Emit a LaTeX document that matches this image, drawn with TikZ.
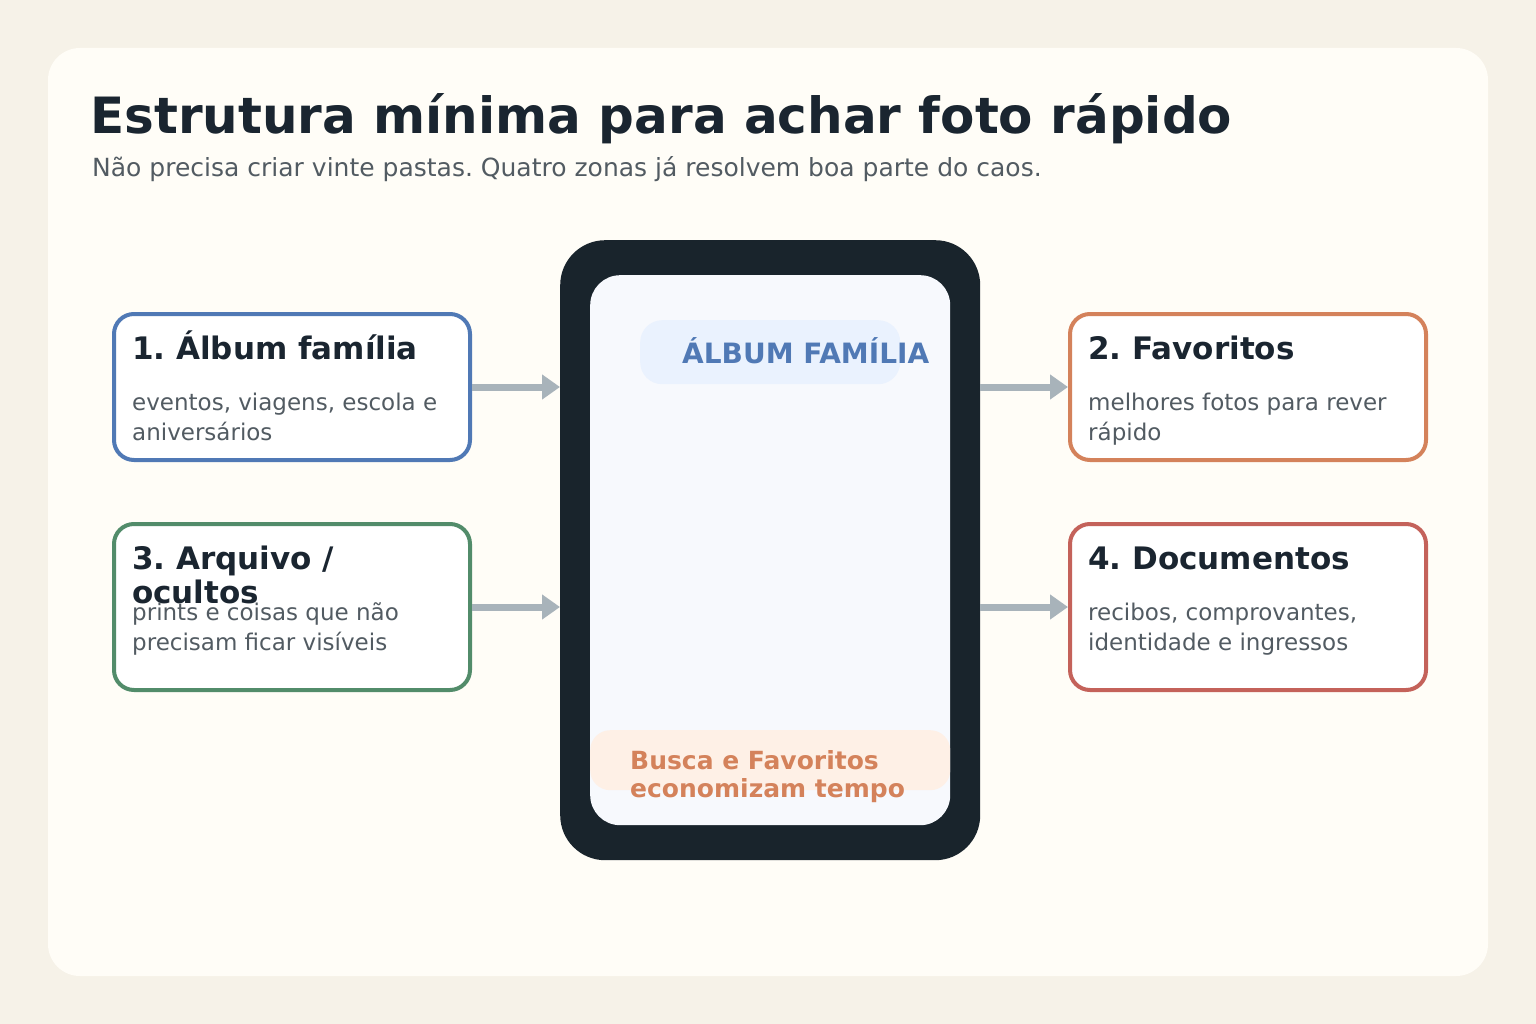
\documentclass[tikz,border=0pt]{standalone}
\usepackage{fontspec}
\setmainfont{DejaVu Sans}
\usetikzlibrary{positioning,arrows.meta}
\frenchspacing

\definecolor{pagebg}{HTML}{F6F2E8}
\definecolor{cardbg}{HTML}{FFFDF7}
\definecolor{ink}{HTML}{1A2530}
\definecolor{muted}{HTML}{525B62}
\definecolor{phoneframe}{HTML}{19242C}
\definecolor{screenbg}{HTML}{F7F9FD}
\definecolor{arrowgray}{HTML}{A8B3BA}
\definecolor{zblue}{HTML}{5079B5}
\definecolor{zorange}{HTML}{D4825B}
\definecolor{zgreen}{HTML}{528C6A}
\definecolor{zred}{HTML}{C4625A}
\definecolor{pillblue}{HTML}{EAF2FE}
\definecolor{pillorange}{HTML}{FEF0E6}

\tikzset{
  zonebox/.style={draw=#1, line width=4pt, rounded corners=20pt, fill=white,
    minimum width=356pt, anchor=north west, inner sep=0pt},
  zonetitle/.style={anchor=base west, inner sep=0pt,
    font=\fontsize{31}{36}\selectfont\bfseries, text=ink},
  zonetext/.style={anchor=base west, inner sep=0pt,
    font=\fontsize{23}{30}\selectfont, text=muted},
  link/.style={line width=7pt, draw=arrowgray,
    -{Triangle[length=18pt,width=24pt,fill=arrowgray]}},
  pill/.style={fill=#1, draw=none, rounded corners=22pt, anchor=north west, inner sep=0pt}
}

\begin{document}
\begin{tikzpicture}[x=1pt,y=-1pt]

	% page and card
	\fill[pagebg] (0,0) rectangle (1536,1024);
	\useasboundingbox (0,0) rectangle (1536,1024);
	\fill[cardbg, rounded corners=32pt] (48,48) rectangle (1488,976);

	\node[anchor=base west, inner sep=0pt, text=ink, font=\fontsize{50}{58}\selectfont\bfseries] (title) at (90,134) {Estrutura mínima para achar foto rápido};
	\node[anchor=base west, inner sep=0pt, text=muted, font=\fontsize{25}{30}\selectfont] (subtitle) at (92,177) {Não precisa criar vinte pastas. Quatro zonas já resolvem boa parte do caos.};

	% phone
	\node[fill=phoneframe, rounded corners=45pt, minimum width=420pt, minimum height=620pt, anchor=north west, inner sep=0pt] (phone) at (560,240) {};
	\node[fill=screenbg, rounded corners=30pt, minimum width=360pt, minimum height=550pt, anchor=north west, inner sep=0pt] (screen) at (590,275) {};
	\node[pill=pillblue, minimum width=260pt, minimum height=64pt] (toppill) at (640,320) {};
	\node[anchor=base west, inner sep=0pt, text=zblue, font=\fontsize{28}{32}\selectfont\bfseries] (toplabel) at (682,363) {ÁLBUM FAMÍLIA};
	\node[pill=pillorange, rounded corners=20pt, minimum width=360pt, minimum height=60pt] (botpill) at (590,730) {};
	\node[anchor=base west, inner sep=0pt, text=zorange, font=\fontsize{25}{28}\selectfont\bfseries] (botlabel) at (630,769) {Busca e Favoritos};
	\node[anchor=base west, inner sep=0pt, text=zorange, font=\fontsize{25}{28}\selectfont\bfseries] (botlabelb) at (630,797) {economizam tempo};

	% zone boxes
	\node[zonebox=zblue, minimum height=146pt] (album) at (112,312) {};
	\node[zonebox=zorange, minimum height=146pt] (fav) at (1068,312) {};
	\node[zonebox=zgreen, minimum height=166pt] (arch) at (112,522) {};
	\node[zonebox=zred, minimum height=166pt] (docs) at (1068,522) {};

	\node[zonetitle] (albumt) at (132,359) {1. Álbum família};
	\node[zonetext] (albumd) at (132,410) {eventos, viagens, escola e};
	\node[zonetext] (albumdb) at (132,440) {aniversários};

	\node[zonetitle] (favt) at (1088,359) {2. Favoritos};
	\node[zonetext] (favd) at (1088,410) {melhores fotos para rever};
	\node[zonetext] (favdb) at (1088,440) {rápido};

	\node[zonetitle] (archt) at (132,569) {3. Arquivo /};
	\node[zonetitle] (archtb) at (132,603) {ocultos};
	\node[zonetext] (archd) at (132,620) {prints e coisas que não};
	\node[zonetext] (archdb) at (132,650) {precisam ficar visíveis};

	\node[zonetitle] (docst) at (1088,569) {4. Documentos};
	\node[zonetext] (docsd) at (1088,620) {recibos, comprovantes,};
	\node[zonetext] (docsdb) at (1088,650) {identidade e ingressos};

	% links
	\draw[link] (album.east) -- (album.east -| phone.west);
	\draw[link] (arch.east) -- (arch.east -| phone.west);
	\draw[link] (phone.east |- fav.west) -- (fav.west);
	\draw[link] (phone.east |- docs.west) -- (docs.west);

\end{tikzpicture}
\end{document}
